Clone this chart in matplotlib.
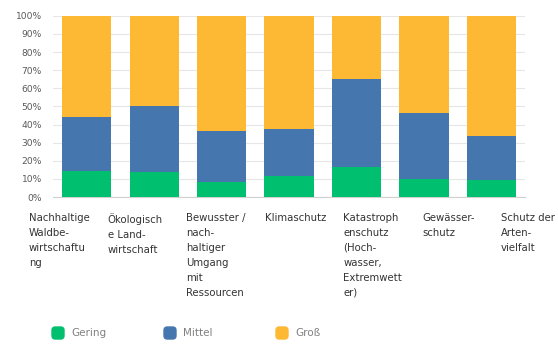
import matplotlib
matplotlib.use('Agg')
import matplotlib.pyplot as plt
from matplotlib.patches import FancyBboxPatch
import numpy as np

# categories as printed under the bars (line breaks as in the original)
categories = [
    "Nachhaltige\nWaldbe-\nwirtschaftu\nng",
    "Ökologisch\ne Land-\nwirtschaft",
    "Bewusster /\nnach-\nhaltiger\nUmgang\nmit\nRessourcen",
    "Klimaschutz",
    "Katastroph\nenschutz\n(Hoch-\nwasser,\nExtremwett\ner)",
    "Gewässer-\nschutz",
    "Schutz der\nArten-\nvielfalt",
]

# shares in percent
gering = [14.5, 14, 8.5, 11.5, 16.5, 10, 9.5]
mittel = [29.5, 36.5, 28, 26, 48.5, 36.5, 24]
gross = [56, 49.5, 63.5, 62.5, 35, 53.5, 66.5]

series_names = ["Gering", "Mittel", "Groß"]
colors = ["#00BF6F", "#4577AE", "#FDB933"]

fig = plt.figure(figsize=(5.58, 3.44), dpi=100)
ax = fig.add_axes([0.095, 0.427, 0.846, 0.527])

x = np.arange(len(categories))
bottom = np.zeros(len(categories))
for vals, col in zip([gering, mittel, gross], colors):
    ax.bar(x, vals, width=0.73, bottom=bottom, color=col, zorder=3)
    bottom += np.array(vals)

ax.set_xlim(-0.5, len(categories) - 0.5)
ax.set_ylim(0, 100)
ax.set_yticks(range(0, 101, 10))
ax.set_yticklabels([f"{v}%" for v in range(0, 101, 10)])
ax.tick_params(axis='y', length=0, labelsize=6.6, labelcolor='#595959', pad=8)
ax.set_xticks([])
ax.grid(axis='y', color='#e6e6e6', linewidth=0.8, zorder=0)
for side in ['top', 'right', 'left']:
    ax.spines[side].set_visible(False)
ax.spines['bottom'].set_color('#d0d0d0')
ax.spines['bottom'].set_linewidth(0.8)

# category labels are laid out in wider slots than the bars
W, H = 558, 344
for i, lab in enumerate(categories):
    fig.text((29 + i * 78.6) / W, 1 - 213 / H, lab, ha='left', va='top',
             fontsize=7.3, color='#333333', linespacing=1.62)

# legend along the bottom
legend_x = [52, 164, 276]
for lx, name, col in zip(legend_x, series_names, colors):
    box = FancyBboxPatch((lx / W, 1 - 339 / H), 12 / W, 12 / H,
                         boxstyle="round,pad=0,rounding_size=0.006",
                         transform=fig.transFigure, color=col,
                         mutation_aspect=W / H)
    fig.patches.append(box)
    fig.text((lx + 19) / W, 1 - 333 / H, name, ha='left', va='center',
             fontsize=7.5, color='#808080')

fig.savefig('out.png', dpi=100)
